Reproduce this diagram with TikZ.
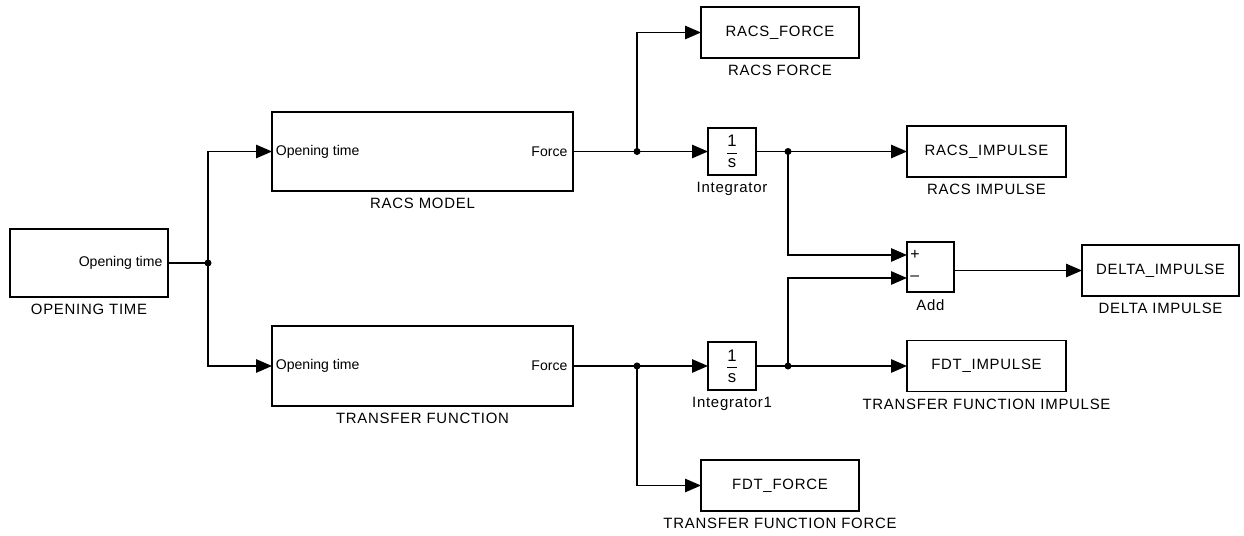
\documentclass[tikz,border=0pt]{standalone}
\usepackage{fontspec}
\setmainfont{Liberation Sans}
\newfontfamily\capsfont[LetterSpace=5]{Liberation Sans}
\usepackage{tikz}
\usetikzlibrary{calc,positioning,arrows.meta}
\tikzset{>={Triangle[length=9pt,width=7.5pt]}}
\tikzset{
  block/.style={draw,line width=1pt,inner sep=0pt,outer sep=0pt,
    font=\capsfont\fontsize{8.5}{10}\selectfont},
  port/.style={inner sep=0pt,font=\fontsize{8}{10}\selectfont},
  caption/.style={inner sep=0pt,font=\capsfont\fontsize{8.5}{10}\selectfont},
  frac/.style={font=\fontsize{9.5}{11}\selectfont},
  wire/.style={line width=1pt},
  dot/.style={fill,circle,inner sep=0pt,minimum size=4pt}
}

\begin{document}
\begin{tikzpicture}[x=0.02cm,y=-0.02cm]
  \useasboundingbox (0,0) rectangle (1244,536);

  % Source and the two models
  \node[block,minimum width=3.16cm,minimum height=1.36cm] (open) at (89,263) {};
  \node[port,anchor=east] (openport) at ([xshift=-3pt]open.east) {Opening time};
  \node[caption,below=4pt of open] (openlab) {OPENING TIME};

  \node[block,minimum width=6.02cm,minimum height=1.58cm] (racs) at (422.5,151.5) {};
  \node[port,anchor=west] (racsin) at ([xshift=2pt]racs.west) {Opening time};
  \node[port,anchor=east] (racsout) at ([xshift=-3pt]racs.east) {Force};
  \node[caption,below=4pt of racs] (racslab) {RACS MODEL};

  \node[block,minimum width=6.02cm,minimum height=1.6cm] (tf) at (422.5,366) {};
  \node[port,anchor=west] (tfin) at ([xshift=2pt]tf.west) {Opening time};
  \node[port,anchor=east] (tfout) at ([xshift=-3pt]tf.east) {Force};
  \node[caption,below=4pt of tf] (tflab) {TRANSFER FUNCTION};

  % Integrators
  \node[block,frac,minimum width=0.96cm,minimum height=0.94cm]
    (integ) at (732,151.5) {$\displaystyle\frac{\mbox{1}}{\mbox{s}}$};
  \node[caption,below=4pt of integ] (integlab) {Integrator};
  \node[block,frac,minimum width=0.96cm,minimum height=0.96cm]
    (integ1) at (732,366) {$\displaystyle\frac{\mbox{1}}{\mbox{s}}$};
  \node[caption,below=4pt of integ1] (integ1lab) {Integrator1};

  % Difference of the two impulses
  \node[block,minimum width=0.94cm,minimum height=1cm] (add) at (930.5,267) {};
  \node[port,anchor=west,font=\fontsize{9}{10}\selectfont] (addplus) at ($(add.west)+(3,-12)$) {+};
  \node[port,anchor=west,font=\fontsize{9}{10}\selectfont] (addminus) at ($(add.west)+(3,11)$) {--};
  \node[caption,below=4pt of add] (addlab) {Add};

  % Sinks
  \node[block,minimum width=3.16cm,minimum height=1.02cm] (racsforce) at (780,32.5) {RACS\_FORCE};
  \node[caption,below=4pt of racsforce] (racsforcelab) {RACS FORCE};
  \node[block,minimum width=3.18cm,minimum height=1.02cm] (racsimp) at (986.5,151.5) {RACS\_IMPULSE};
  \node[caption,below=4pt of racsimp] (racsimplab) {RACS IMPULSE};
  \node[block,minimum width=3.14cm,minimum height=1.02cm] (delta) at (1160.5,270.5) {DELTA\_IMPULSE};
  \node[caption,below=4pt of delta] (deltalab) {DELTA IMPULSE};
  \node[block,minimum width=3.18cm,minimum height=1.02cm] (fdtimp) at (986.5,366) {FDT\_IMPULSE};
  \node[caption,below=4pt of fdtimp] (fdtimplab) {TRANSFER FUNCTION IMPULSE};
  \node[block,minimum width=3.16cm,minimum height=1.02cm] (fdtforce) at (780,485.5) {FDT\_FORCE};
  \node[caption,below=4pt of fdtforce] (fdtforcelab) {TRANSFER FUNCTION FORCE};

  % Branch points
  \coordinate (j0) at (208,263);
  \coordinate (j1) at (637,151.5);
  \coordinate (j2) at (788,151.5);
  \coordinate (j3) at (637,366);
  \coordinate (j4) at (788,366);
  \coordinate (addin1) at ($(add.west)+(0,-12)$);
  \coordinate (addin2) at ($(add.west)+(0,11)$);

  % Signal lines
  \draw[wire] (open.east) -- (j0);
  \draw[wire,->] (j0) |- (racs.west);
  \draw[wire,->] (j0) |- (tf.west);

  \draw[wire] (racs.east) -- (j1);
  \draw[wire,->] (j1) -- (integ.west);
  \draw[wire,->] (j1) |- (racsforce.west);
  \draw[wire] (integ.east) -- (j2);
  \draw[wire,->] (j2) -- (racsimp.west);
  \draw[wire,->] (j2) |- (addin1);

  \draw[wire] (tf.east) -- (j3);
  \draw[wire,->] (j3) -- (integ1.west);
  \draw[wire,->] (j3) |- (fdtforce.west);
  \draw[wire] (integ1.east) -- (j4);
  \draw[wire,->] (j4) -- (fdtimp.west);
  \draw[wire,->] (j4) |- (addin2);

  \draw[wire,->] (add.east |- delta.west) -- (delta.west);

  \foreach \j in {j0,j1,j2,j3,j4}
    \node[dot] at (\j) {};
\end{tikzpicture}
\end{document}
